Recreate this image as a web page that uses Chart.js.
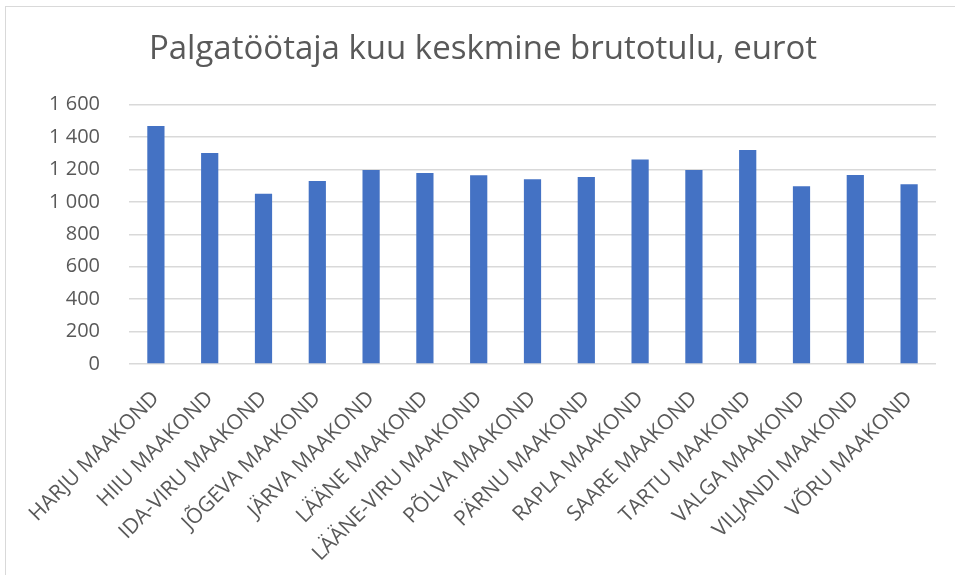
<!DOCTYPE html>
<html>
<head>
<meta charset="utf-8">
<script src="https://cdn.jsdelivr.net/npm/chart.js@4/dist/chart.umd.min.js"></script>
<style>
  html, body { margin: 0; padding: 0; background: #fff; overflow: hidden; }
  #raam { position: absolute; left: 5px; top: 6px; width: 970px; height: 590px; border: 1px solid #d9d9d9; }
  #kast { position: absolute; left: 0; top: 0; width: 955px; height: 575px; }
</style>
</head>
<body>
<div id="raam"></div>
<div id="kast"><canvas id="graafik" width="955" height="575"></canvas></div>
<script>
// maakonnad ja keskmine brutotulu
const maakonnad = [
  "HARJU MAAKOND", "HIIU MAAKOND", "IDA-VIRU MAAKOND", "JÕGEVA MAAKOND", "JÄRVA MAAKOND",
  "LÄÄNE MAAKOND", "LÄÄNE-VIRU MAAKOND", "PÕLVA MAAKOND", "PÄRNU MAAKOND", "RAPLA MAAKOND",
  "SAARE MAAKOND", "TARTU MAAKOND", "VALGA MAAKOND", "VILJANDI MAAKOND", "VÕRU MAAKOND"
];
const brutotulu = [1468, 1301, 1050, 1128, 1196, 1178, 1164, 1139, 1153, 1262, 1196, 1320, 1097, 1165, 1108];
const yTikid = [0, 200, 400, 600, 800, 1000, 1200, 1400, 1600];
const pealkiri = "Palgatöötaja kuu keskmine brutotulu, eurot";

const hall = '#595959';
const font = "'Open Sans', sans-serif";

function tuhanded(v) {
  return String(v).replace(/\B(?=(\d{3})+(?!\d))/g, ' ');
}

const ctx = document.getElementById('graafik').getContext('2d');
new Chart(ctx, {
  type: 'bar',
  data: {
    labels: maakonnad,
    datasets: [{
      label: 'Brutotulu',
      data: brutotulu,
      backgroundColor: '#4472C4',
      barPercentage: 0.32,
      categoryPercentage: 1
    }]
  },
  options: {
    responsive: false,
    animation: false,
    layout: { padding: { left: 30, right: 19, top: 0, bottom: 0 } },
    plugins: {
      legend: { display: false },
      tooltip: { enabled: false },
      title: {
        display: true,
        text: pealkiri,
        color: hall,
        font: { family: font, size: 33, weight: 'normal', lineHeight: 1.2 },
        padding: { top: 30, bottom: 35 }
      }
    },
    scales: {
      x: {
        grid: { display: false },
        border: { display: false },
        ticks: {
          color: hall,
          font: { family: font, size: 21 },
          minRotation: 45,
          maxRotation: 45,
          autoSkip: false,
          padding: 14
        },
        afterFit: (scale) => { scale.height = 211; }
      },
      y: {
        min: 0,
        max: 1600,
        afterBuildTicks: (scale) => { scale.ticks = yTikid.map(v => ({ value: v })); },
        grid: { color: '#d9d9d9', lineWidth: 1.5, drawTicks: false },
        border: { display: false },
        ticks: {
          color: hall,
          font: { family: font, size: 20 },
          padding: 29,
          callback: (v) => tuhanded(v)
        },
        afterFit: (scale) => { scale.width = 99; }
      }
    }
  }
});
</script>
</body>
</html>
